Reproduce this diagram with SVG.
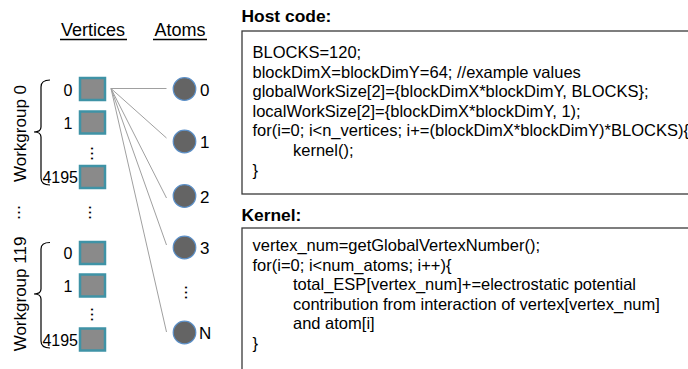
<svg xmlns="http://www.w3.org/2000/svg" width="688" height="369" viewBox="0 0 688 369">
<style>
text{font-family:"Liberation Sans",Arial,sans-serif;fill:#000}
.hdr{font-size:18px}
.lbl{font-size:16px}
.dots{font-size:18px}
.albl{font-size:17px}
.wg{font-size:17px}
.code{font-size:16.5px}
.ttl{font-size:17.4px;font-weight:bold}
.sq{fill:#8a8a8a;stroke:#3f93a6;stroke-width:2.5}
.atom{fill:#646464;stroke:#5b8fc7;stroke-width:1.2}
.conn{stroke:#a0a0a0;stroke-width:1;fill:none}
.brace{stroke:#000;stroke-width:1.2;fill:none}
.box{fill:none;stroke:#3a3a3a;stroke-width:1.3}
.ul{stroke:#000;stroke-width:1.3}
</style>
<rect width="688" height="369" fill="#fff"/>

<g id="headers">
<text class="hdr" x="93" y="36" text-anchor="middle">Vertices</text>
<line class="ul" x1="60" y1="39.5" x2="127" y2="39.5"/>
<text class="hdr" x="180" y="36" text-anchor="middle">Atoms</text>
<line class="ul" x1="153" y1="39.5" x2="207" y2="39.5"/>
</g>

<g id="connectors">
<line class="conn" x1="111" y1="88.5" x2="166.5" y2="88.5"/>
<line class="conn" x1="111" y1="88.5" x2="166.5" y2="138"/>
<line class="conn" x1="111" y1="88.5" x2="166.5" y2="198"/>
<line class="conn" x1="111" y1="88.5" x2="166.5" y2="245"/>
<line class="conn" x1="111" y1="88.5" x2="166.5" y2="332"/>
</g>

<g id="workgroup0">
<path class="brace" d="M50,80 Q41,80 41,87 L41,127 Q41,132 34,132 Q41,132 41,137 L41,178 Q41,185 50,185"/>
<text class="wg" transform="translate(25.5,133.5) rotate(-90)" text-anchor="middle">Workgroup 0</text>
</g>
<g id="v0_0"><rect class="sq" x="80" y="78" width="25" height="22"/><text class="lbl" x="72.5" y="95.5" text-anchor="end">0</text></g>
<g id="v0_1"><rect class="sq" x="80" y="111.5" width="25" height="22"/><text class="lbl" x="72.5" y="129" text-anchor="end">1</text></g>
<text class="dots" transform="translate(91,146) rotate(90)">...</text>
<g id="v0_4195"><rect class="sq" x="80" y="166" width="25" height="22"/><text class="lbl" x="78" y="183" text-anchor="end">4195</text></g>

<text class="dots" transform="translate(18,205) rotate(90)">...</text>
<text class="dots" transform="translate(89,205) rotate(90)">...</text>

<g id="workgroup119">
<path class="brace" d="M50,242.5 Q41,242.5 41,249 L41,289 Q41,294 34,294 Q41,294 41,299 L41,341 Q41,348 50,348"/>
<text class="wg" transform="translate(25.5,294) rotate(-90)" text-anchor="middle">Workgroup 119</text>
</g>
<g id="v119_0"><rect class="sq" x="80" y="242" width="25" height="22"/><text class="lbl" x="72.5" y="259" text-anchor="end">0</text></g>
<g id="v119_1"><rect class="sq" x="80" y="274.5" width="25" height="22"/><text class="lbl" x="72.5" y="292" text-anchor="end">1</text></g>
<text class="dots" transform="translate(91,307) rotate(90)">...</text>
<g id="v119_4195"><rect class="sq" x="80" y="328.5" width="25" height="22"/><text class="lbl" x="78" y="345.5" text-anchor="end">4195</text></g>

<g id="atom0"><circle class="atom" cx="184.5" cy="89" r="11.3"/><text class="albl" x="200" y="95.5">0</text></g>
<g id="atom1"><circle class="atom" cx="184.5" cy="141.5" r="11.3"/><text class="albl" x="200" y="148">1</text></g>
<g id="atom2"><circle class="atom" cx="184.5" cy="196" r="11.3"/><text class="albl" x="200" y="202.5">2</text></g>
<g id="atom3"><circle class="atom" cx="184.5" cy="247.5" r="11.3"/><text class="albl" x="200" y="254">3</text></g>
<text class="dots" transform="translate(185,285) rotate(90)">...</text>
<g id="atomN"><circle class="atom" cx="184.5" cy="332.5" r="11.3"/><text class="albl" x="199" y="339">N</text></g>

<g id="hostcode">
<text class="ttl" x="241.5" y="22">Host code:</text>
<rect class="box" x="242" y="31" width="470" height="163"/>
<text class="code" x="252.5" y="58">BLOCKS=120;</text>
<text class="code" x="252.5" y="77.6">blockDimX=blockDimY=64; //example values</text>
<text class="code" x="252.5" y="97.2">globalWorkSize[2]={blockDimX*blockDimY, BLOCKS};</text>
<text class="code" x="252.5" y="116.8">localWorkSize[2]={blockDimX*blockDimY, 1);</text>
<text class="code" x="252.5" y="136.4">for(i=0; i&lt;n_vertices; i+=(blockDimX*blockDimY)*BLOCKS){</text>
<text class="code" x="293" y="156">kernel();</text>
<text class="code" x="252.5" y="175.6">}</text>
</g>

<g id="kernel">
<text class="ttl" x="241.5" y="221">Kernel:</text>
<rect class="box" x="242" y="228" width="470" height="160"/>
<text class="code" x="252.5" y="251">vertex_num=getGlobalVertexNumber();</text>
<text class="code" x="252.5" y="270.6">for(i=0; i&lt;num_atoms; i++){</text>
<text class="code" x="293" y="290.2">total_ESP[vertex_num]+=electrostatic potential</text>
<text class="code" x="293" y="309.8">contribution from interaction of vertex[vertex_num]</text>
<text class="code" x="293" y="329.4">and atom[i]</text>
<text class="code" x="252.5" y="349">}</text>
</g>
</svg>
